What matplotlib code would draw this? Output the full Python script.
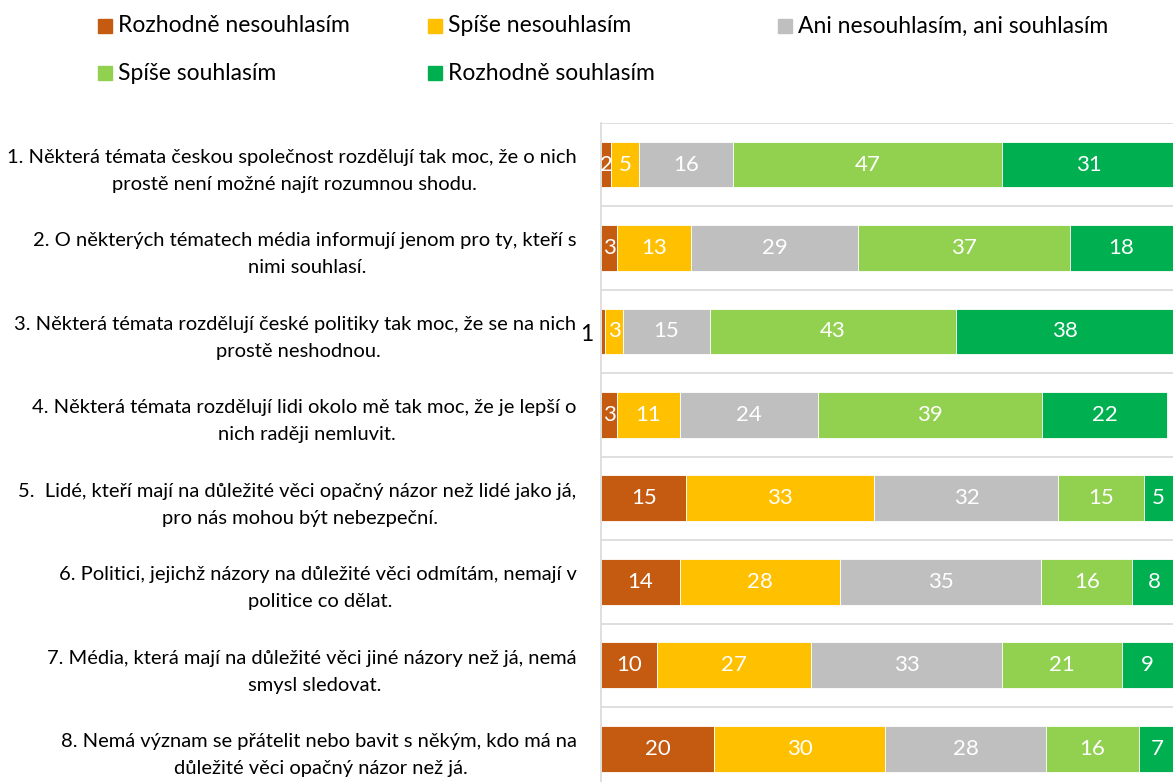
import matplotlib
matplotlib.use("Agg")
import matplotlib.pyplot as plt
from matplotlib.patches import Rectangle

plt.rcParams['font.family'] = ['Lato', 'DejaVu Sans']

# answer categories and colours
answers = ["Rozhodně nesouhlasím", "Spíše nesouhlasím", "Ani nesouhlasím, ani souhlasím",
           "Spíše souhlasím", "Rozhodně souhlasím"]
colors = ["#c55a11", "#ffc000", "#bfbfbf", "#92d050", "#00b050"]

statements = [
    "1. Některá témata českou společnost rozdělují tak moc, že o nich \nprostě není možné najít rozumnou shodu.",
    "2. O některých tématech média informují jenom pro ty, kteří s \nnimi souhlasí.",
    "3. Některá témata rozdělují české politiky tak moc, že se na nich \nprostě neshodnou.",
    "4. Některá témata rozdělují lidi okolo mě tak moc, že je lepší o \nnich raději nemluvit.",
    "5.  Lidé, kteří mají na důležité věci opačný názor než lidé jako já, \npro nás mohou být nebezpeční.",
    "6. Politici, jejichž názory na důležité věci odmítám, nemají v \npolitice co dělat.",
    "7. Média, která mají na důležité věci jiné názory než já, nemá \nsmysl sledovat.",
    "8. Nemá význam se přátelit nebo bavit s někým, kdo má na \ndůležité věci opačný názor než já.",
]

# percentages per answer, one value per statement
strongly_disagree = [1.8, 2.8, 0.7, 2.8, 14.9, 13.8, 9.8, 19.8]
rather_disagree = [4.9, 13.0, 3.2, 11.0, 32.9, 28.0, 27.0, 29.9]
neutral = [16.3, 29.2, 15.1, 24.2, 32.2, 35.2, 33.3, 28.2]
rather_agree = [47.1, 37.0, 43.1, 39.1, 14.9, 15.9, 21.0, 16.1]
strongly_agree = [30.6, 18.0, 38.0, 21.9, 5.1, 7.6, 8.9, 6.6]
series = [strongly_disagree, rather_disagree, neutral, rather_agree, strongly_agree]

fig = plt.figure(figsize=(11.74, 7.82), dpi=100)
ax = fig.add_axes([0.512, -0.011, 0.487, 0.854])

y = list(range(len(statements)))
left = [0.0] * len(statements)
for vals, col in zip(series, colors):
    bars = ax.barh(y, vals, left=left, height=0.55, color=col, edgecolor='white', linewidth=0.6)
    for i, (b, v) in enumerate(zip(bars, vals)):
        cx = left[i] + v / 2
        if v < 1:
            # tiny segment: label sits outside, to the left of the axis
            ax.text(-1.3, i + 0.04, f"{v:.0f}", ha='right', va='center', fontsize=16.5, color='black')
        else:
            ax.text(cx, i, f"{v:.0f}", ha='center', va='center', fontsize=16, color='white')
    left = [l + v for l, v in zip(left, vals)]

ax.set_xlim(0, 100)
ax.set_ylim(len(statements) - 0.5, -0.5)
ax.set_yticks(y)
ax.set_yticklabels(statements, fontsize=14.5, multialignment='center', linespacing=1.7)
ax.tick_params(axis='y', length=0, pad=14)
ax.set_xticks([])

# row separators
ax.set_yticks([i - 0.5 for i in range(len(statements) + 1)], minor=True)
ax.tick_params(axis='y', which='minor', length=0)
ax.grid(True, which='minor', axis='y', color='#d9d9d9', linewidth=1.2)
ax.set_axisbelow(True)
for s in ['top', 'right', 'bottom']:
    ax.spines[s].set_visible(False)
ax.spines['left'].set_color('#d9d9d9')
ax.spines['left'].set_linewidth(1.2)

# legend, laid out like the original
leg_pos = [(98, 26), (428, 26), (778, 26), (98, 73), (428, 73)]
W, H = 1174, 782
for (px, py), name, col in zip(leg_pos, answers, colors):
    fig.patches.append(Rectangle((px / W, 1 - (py + 7) / H), 14 / W, 14 / H,
                                 transform=fig.transFigure, color=col))
    fig.text((px + 20) / W, 1 - py / H, name, fontsize=16.5, va='center', ha='left')

fig.savefig("out.png", dpi=100)
